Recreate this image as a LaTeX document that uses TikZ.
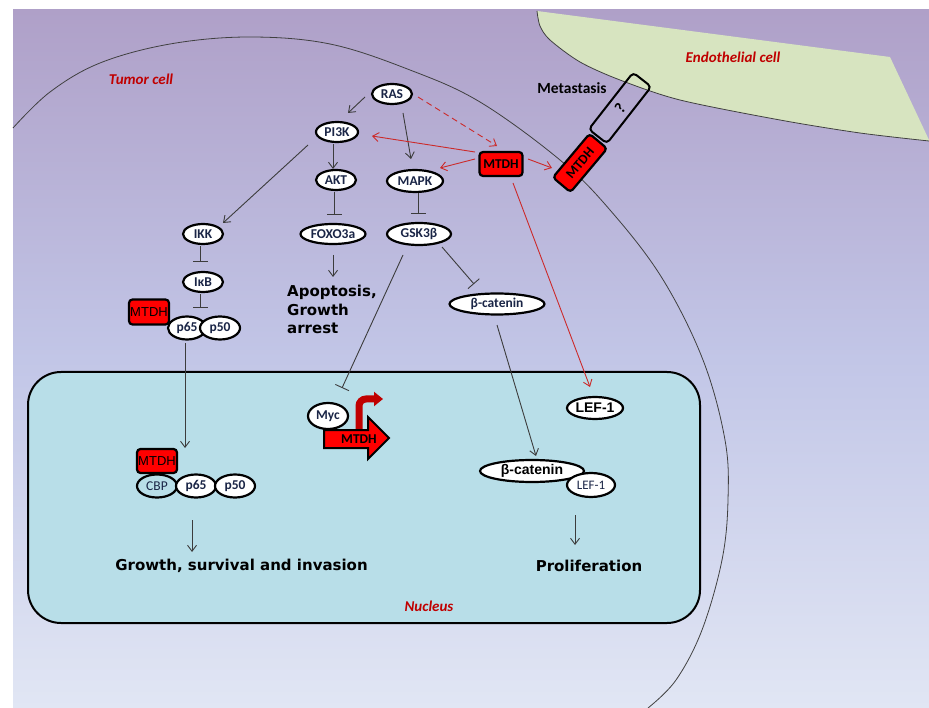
\documentclass[tikz,border=0pt]{standalone}
\usepackage{fontspec}
\setmainfont{Carlito}
\newfontfamily\dejavu{DejaVu Sans}
\newfontfamily\libsans{Liberation Sans}
\usetikzlibrary{shapes.geometric,arrows.meta,calc}
\definecolor{bgtop}{HTML}{AFA0C8}
\definecolor{bgmid}{HTML}{C2C6E7}
\definecolor{bgbot}{HTML}{E1E6F4}
\definecolor{endo}{HTML}{D7E4C0}
\definecolor{nuc}{HTML}{B8DEE8}
\definecolor{mred}{HTML}{FF0000}
\definecolor{lred}{HTML}{CC2A2A}
\definecolor{dred}{HTML}{C00000}
\definecolor{navy}{HTML}{1A2546}
\definecolor{lgray}{HTML}{3C3C3C}
\begin{document}
\begin{tikzpicture}[x=1pt,y=-1pt,
 prot/.style={ellipse, draw=black, line width=2.2pt, fill=white, inner sep=0pt, minimum height=20pt, text=navy, font=\bfseries\fontsize{13.5}{15}\selectfont},
 mtdhbox/.style={rectangle, rounded corners=3.5pt, draw=black, line width=2.2pt, fill=mred, inner sep=0pt, minimum width=41pt, minimum height=24pt, font=\bfseries\fontsize{13.5}{15}\selectfont, text=black},
 arr/.style={draw=lgray, line width=0.9pt, -{Straight Barb[length=6pt,width=9pt]}},
 inh/.style={draw=lgray, line width=0.9pt, -{Bar[width=15pt]}},
 rarr/.style={draw=lred, line width=0.9pt, -{Straight Barb[length=6pt,width=9pt]}},
 big/.style={font=\dejavu\bfseries\fontsize{15}{18.5}\selectfont, inner sep=0pt},
 redlab/.style={font=\bfseries\itshape\fontsize{15}{18}\selectfont, text=dred, inner sep=0pt}
]
\useasboundingbox (0,0) rectangle (929,708);
% background
\fill[white] (0,0) rectangle (929,708);
\shade[top color=bgtop, bottom color=bgbot, middle color=bgmid] (13,10) rectangle (929,708);
% endothelial cell
\fill[endo] plot[smooth] coordinates {(537,11) (540,26) (550,40) (580,62) (620,80) (680,100) (780,120) (860,133) (929,141)} -- (929,140) -- (890,57) -- cycle;
\draw[line width=0.8pt, black!75] plot[smooth] coordinates {(537,11) (540,26) (550,40) (580,62) (620,80) (680,100) (780,120) (860,133) (929,141)};
% tumor cell membrane
\draw[line width=0.8pt, black!75] plot[smooth, tension=0.6] coordinates {(13,128) (50,92) (100,63) (170,44) (249,37) (330,44) (410,70) (480,102) (560,160) (610,210) (662,278) (703,360) (725,440) (728,500) (722,560) (702,630) (676,680) (648,708)};
% nucleus
\node[draw=black, line width=2pt, fill=nuc, rounded corners=33pt, minimum width=672pt, minimum height=251pt, inner sep=0pt] (nucleus) at (364,497.5) {};

% cytoplasm nodes
\node[prot, minimum width=40pt] (ras) at (392,94) {RAS};
\node[prot, minimum width=42pt] (pi3k) at (337,132) {PI3K};
\node[prot, minimum width=40pt] (akt) at (336,180) {AKT};
\node[prot, minimum width=56pt, minimum height=22pt] (mapk) at (415,181) {MAPK};
\node[mtdhbox, minimum width=43pt] (mtdh) at (501,164) {MTDH};
\node[prot, minimum width=65pt] (foxo) at (333,234) {FOXO3a};
\node[prot, minimum width=64pt, minimum height=22pt] (gsk) at (419,234) {GSK3β};
\node[prot, minimum width=95pt, minimum height=21pt] (bcat) at (497,304) {β-catenin};
\node[prot, minimum width=40pt] (ikk) at (203,234) {IKK};
\node[prot, minimum width=40pt] (ikb) at (203,282) {IκB};
\node[mtdhbox, minimum width=40pt, minimum height=25pt, font=\libsans\fontsize{13}{15}\selectfont] (lmtdh) at (149,312) {MTDH};
\node[prot, minimum width=38pt, minimum height=23pt] (p65) at (187,328) {p65};
\node[prot, minimum width=40pt, minimum height=23pt] (p50) at (220,328) {p50};

% membrane proteins
\node[rectangle, rounded corners=4pt, draw=black, line width=2pt, minimum width=72pt, minimum height=23pt, rotate=52, inner sep=0pt, font=\bfseries\fontsize{16}{17}\selectfont] (q) at (620,108) {?};
\node[mtdhbox, minimum width=57pt, minimum height=23pt, rotate=50] (rmtdh) at (580,163) {MTDH};

% nucleus nodes
\node[mtdhbox, minimum width=40pt, minimum height=24pt, font=\libsans\fontsize{13}{15}\selectfont] (nmtdh) at (157,461) {MTDH};
\node[prot, fill=nuc, minimum width=40pt, minimum height=23pt, font=\fontsize{13.5}{15}\selectfont] (cbp) at (157,486) {CBP};
\node[prot, minimum width=40pt, minimum height=23pt] (np65) at (196,486) {p65};
\node[prot, minimum width=40pt, minimum height=23pt] (np50) at (235,486) {p50};

% MTDH gene arrow
\draw[dred, line width=7pt, rounded corners=7pt, -{Triangle[length=9pt,width=14pt]}] (359,433) |- (383,399);
\draw[fill=mred, line width=2pt, line join=miter] (324,430) -- (368,430) -- (368,417) -- (389,438) -- (368,459) -- (368,448) -- (324,448) -- cycle;
\node[font=\bfseries\fontsize{13.5}{15}\selectfont, text=black, inner sep=0pt] (genetxt) at (359,439) {MTDH};
\node[prot, minimum width=40pt, minimum height=26pt] (myc) at (328,416) {Myc};

\node[prot, minimum width=104pt, minimum height=22pt, font=\libsans\bfseries\fontsize{14}{15}\selectfont, text=black] (nbcat) at (532,471) {β-catenin};
\node[prot, minimum width=48pt, minimum height=24pt, font=\fontsize{13}{14}\selectfont] (nlef) at (591,485) {LEF-1};
\node[prot, minimum width=56pt, minimum height=22pt, font=\libsans\bfseries\fontsize{14}{15}\selectfont, text=black] (lefa) at (595,408) {LEF-1};

% labels
\node[big] (growth) at (241.5,566) {Growth, survival and invasion};
\node[big] (prolif) at (589,566) {Proliferation};
\node[big, align=left, anchor=north west] (apop) at (287,285) {Apoptosis,\\Growth\\arrest};
\node[redlab] (tumor) at (141,79) {Tumor cell};
\node[redlab] (endolab) at (733,57) {Endothelial cell};
\node[redlab] (nuclab) at (429,606) {Nucleus};
\node[font=\bfseries\fontsize{15.5}{18}\selectfont, inner sep=0pt] (meta) at (572,88) {Metastasis};

% connectors
\draw[arr] ($(ras)+(-27,3)$) -- ($(pi3k)+(11,-19)$);
\draw[arr] ($(ras)+(11,19)$) -- ($(mapk)+(-4,-22)$);
\draw[rarr, dashed, dash pattern=on 6pt off 4pt] ($(ras)+(26,3)$) -- ($(mtdh)+(-4,-18)$);
\draw[rarr] ($(mtdh)+(-26,-12)$) -- ($(pi3k)+(35,4)$);
\draw[rarr] ($(mtdh)+(-26,-5)$) -- ($(mapk)+(25,-13)$);
\draw[rarr] ($(mtdh)+(27,-5)$) -- ($(rmtdh)+(-28,5)$);
\draw[rarr] ($(mtdh)+(12,19)$) -- ($(lefa)+(-5,-21)$);
\draw[arr] ($(pi3k)+(-4,12)$) -- ($(akt)+(-3,-11)$);
\draw[arr] ($(pi3k)+(-29,13)$) -- ($(ikk)+(20,-11)$);
\draw[inh] ($(akt)+(-2,12)$) -- ($(foxo)+(1,-19)$);
\draw[inh] ($(mapk)+(3,12)$) -- ($(gsk)+(-1,-20)$);
\draw[arr] ($(foxo)+(0,21)$) -- ($(foxo)+(0,43)$);
\draw[inh] ($(ikk)+(-3,12)$) -- ($(ikb)+(-3,-20)$);
\draw[inh] ($(ikb)+(-3,12)$) -- ($(p65)+(13,-20)$);
\draw[inh] ($(gsk)+(23,13)$) -- ($(bcat)+(-23,-20)$);
\draw[inh] ($(gsk)+(-16,21)$) -- ($(myc)+(14,-28)$);
\draw[arr] ($(bcat)+(0,21)$) -- ($(nbcat)+(4,-15)$);
\draw[arr] ($(p65)+(-2,15)$) -- ($(p65)+(-2,120)$);
\draw[arr] ($(np65)+(-4,34)$) -- ($(np65)+(-4,66)$);
\draw[arr] ($(nlef)+(-16,30)$) -- ($(nlef)+(-16,60)$);
\end{tikzpicture}
\end{document}
